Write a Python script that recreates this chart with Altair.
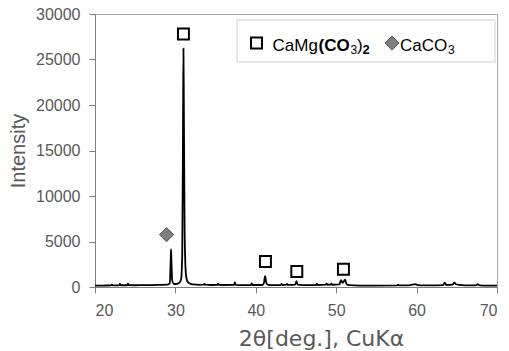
import altair as alt
import pandas as pd

# XRD pattern (2θ in degrees, intensity in counts)
two_theta = [20.0, 21.0, 22.0, 22.1, 22.2, 23.0, 23.1, 23.2, 24.0, 24.1, 24.2, 25.0, 26.0, 27.0,
             28.0, 29.0, 29.3, 29.4, 29.45, 29.5, 29.6, 29.8, 30.0, 30.4, 30.7, 30.85, 30.95,
             31.0, 31.05, 31.15, 31.3, 31.5, 31.8, 32.2, 33.0, 33.5, 33.6, 33.7, 34.5, 35.2,
             35.3, 35.4, 36.0, 37.3, 37.4, 37.5, 38.5, 39.4, 39.5, 39.6, 40.8, 41.0, 41.15,
             41.3, 41.5, 42.5, 43.1, 43.2, 43.3, 43.8, 43.9, 44.0, 44.9, 45.05, 45.2, 46.5,
             47.5, 47.6, 47.7, 48.7, 48.8, 48.9, 49.3, 49.4, 49.5, 50.4, 50.6, 50.8, 51.1,
             51.3, 51.6, 53.0, 55.0, 57.6, 57.7, 57.8, 59.0, 59.9, 60.1, 61.0, 62.0, 63.3,
             63.5, 63.7, 64.5, 64.7, 64.9, 65.3, 66.0, 67.4, 67.6, 67.8, 69.0, 70.0]
intensity = [150, 160, 170, 260, 170, 180, 330, 190, 190, 380, 200, 190, 200, 210,
             230, 260, 400, 2500, 4150, 3000, 700, 350, 330, 420, 800, 3500, 18000,
             26200, 20000, 6000, 1500, 600, 380, 280, 240, 250, 330, 250, 220, 230,
             380, 230, 220, 230, 500, 240, 200, 220, 400, 220, 220, 400, 1200,
             500, 230, 200, 220, 350, 220, 250, 330, 230, 250, 650, 260, 200,
             220, 380, 220, 260, 380, 250, 260, 380, 250, 280, 750, 450, 800,
             300, 200, 160, 150, 170, 250, 170, 180, 320, 200, 170, 170, 200,
             480, 220, 260, 470, 300, 230, 180, 180, 320, 180, 150, 150]

# Peak markers
dolomite_x = [31.0, 41.2, 45.1, 50.9]
dolomite_y = [27800, 2800, 1700, 1950]
calcite_x = [28.9]
calcite_y = [5750]

x_ticks = [20, 30, 40, 50, 60, 70]
y_ticks = [0, 5000, 10000, 15000, 20000, 25000, 30000]

spec = pd.DataFrame({"x": two_theta, "y": intensity})
dol = pd.DataFrame({"x": dolomite_x, "y": dolomite_y})
cal = pd.DataFrame({"x": calcite_x, "y": calcite_y})

FONT = "Liberation Sans"
GRAY = "#595959"

xs = alt.Scale(domain=[20, 70], nice=False, zero=False)
ys = alt.Scale(domain=[0, 30000], nice=False)

xaxis = alt.Axis(values=x_ticks, grid=False, title="2θ[deg.], CuKα", tickSize=6,
                 labelPadding=9, titleX=226, titleY=58, titleAlign="center",
                 titleBaseline="alphabetic", titleFont="DejaVu Sans", titleFontSize=22)
yaxis = alt.Axis(values=y_ticks, grid=False, title="Intensity", tickSize=6,
                 labelPadding=9, format="d", titleX=-77, titleY=136.5, titleAngle=270,
                 titleAlign="center", titleBaseline="middle", titleFontSize=20)

line = alt.Chart(spec).mark_line(color="black", strokeWidth=1.8, interpolate="monotone").encode(
    x=alt.X("x:Q", scale=xs, axis=xaxis),
    y=alt.Y("y:Q", scale=ys, axis=yaxis),
)

dol_pts = alt.Chart(dol).mark_point(shape="square", size=120, filled=False, color="black",
                                    strokeWidth=2, opacity=1).encode(
    x=alt.X("x:Q", scale=xs), y=alt.Y("y:Q", scale=ys))

cal_pts = alt.Chart(cal).mark_point(shape="diamond", size=200, filled=True, fill="#7f7f7f",
                                    stroke="#595959", strokeWidth=1, opacity=1).encode(
    x=alt.X("x:Q", scale=xs), y=alt.Y("y:Q", scale=ys))

one = pd.DataFrame({"t": [""]})

legend_box = alt.Chart(one).mark_rect(fill="white", stroke="#d0d0d0", strokeWidth=1).encode(
    x=alt.value(142), x2=alt.value(400), y=alt.value(6), y2=alt.value(48))

leg_sq = alt.Chart(one).mark_point(shape="square", size=120, filled=False, color="black",
                                   strokeWidth=2, opacity=1).encode(
    x=alt.value(161.5), y=alt.value(29))
leg_dia = alt.Chart(one).mark_point(shape="diamond", size=200, filled=True, fill="#7f7f7f",
                                    stroke="#595959", strokeWidth=1, opacity=1).encode(
    x=alt.value(297), y=alt.value(29))


def txt(s, x, y, size=17, bold=False):
    return alt.Chart(pd.DataFrame({"t": [s]})).mark_text(
        align="left", baseline="alphabetic", font=FONT, fontSize=size,
        fontWeight="bold" if bold else "normal", color="black").encode(
        x=alt.value(x), y=alt.value(y), text="t:N")


legend_texts = [
    txt("CaMg", 177.5, 37),
    txt("(CO", 223.5, 37, bold=True),
    txt("3", 255.5, 40, size=12),
    txt(")", 262, 37),
    txt("2", 267.5, 40, size=13, bold=True),
    txt("CaCO", 305, 37),
    txt("3", 353, 40, size=12),
]

chart = alt.layer(line, dol_pts, cal_pts, legend_box, leg_sq, leg_dia, *legend_texts).properties(
    width=402, height=273,
    background="white",
    autosize=alt.AutoSizeParams(type="none"),
    padding={"left": 95, "top": 14, "right": 12, "bottom": 64},
).configure_view(stroke="#a6a6a6", strokeWidth=1).configure_axis(
    labelFont=FONT, titleFont=FONT, labelFontSize=16, titleFontSize=20,
    labelColor=GRAY, titleColor=GRAY, domainColor="#7f7f7f", tickColor="#7f7f7f",
    titleFontWeight="normal",
)

chart.save("out.html", embed_options={"renderer": "svg", "actions": False})
